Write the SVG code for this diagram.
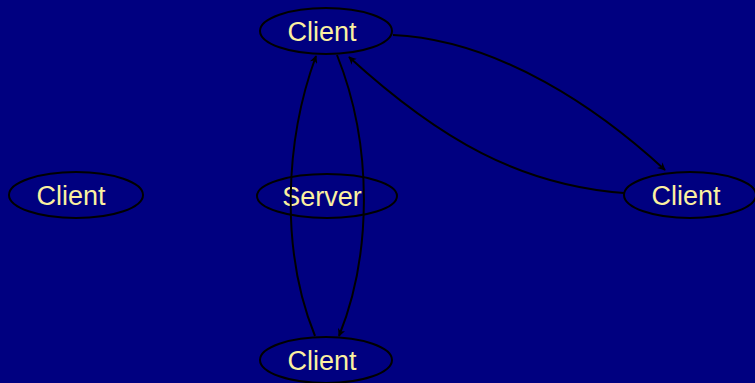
<svg xmlns="http://www.w3.org/2000/svg" width="755" height="383" viewBox="0 0 755 383">
<defs>
<style>
.node ellipse{fill:#000080;stroke:#000;stroke-width:2}
.node text{fill:#fbf0a0;font-family:"Liberation Sans","DejaVu Sans",sans-serif;font-size:27px;text-anchor:middle}
.edge{fill:none;stroke:#000;stroke-width:2;marker-end:url(#ah)}
</style>
<marker id="ah" viewBox="0 0 10 10" refX="9" refY="5" markerWidth="8" markerHeight="8" markerUnits="userSpaceOnUse" orient="auto">
<path d="M0,0 L10,5 L0,10 L3,5 Z" fill="#000"/>
</marker>
</defs>
<rect width="755" height="383" fill="#000080"/>
<g id="client-top" class="node"><ellipse cx="326" cy="31" rx="66" ry="23"/><text x="322" y="41">Client</text></g>
<g id="server" class="node"><ellipse cx="327" cy="196" rx="70" ry="22"/><text x="322" y="206">Server</text></g>
<g id="client-bottom" class="node"><ellipse cx="326" cy="360" rx="66" ry="23"/><text x="322" y="370">Client</text></g>
<g id="client-left" class="node"><ellipse cx="76" cy="195" rx="67" ry="23"/><text x="71" y="205">Client</text></g>
<g id="client-right" class="node"><ellipse cx="690" cy="195" rx="66" ry="23"/><text x="686" y="205">Client</text></g>
<g id="connectors">
<path class="edge" d="M393,35 C500,40 600,110 665,170"/>
<path class="edge" d="M624,193 C520,185 440,140 349,57"/>
<path class="edge" d="M337,55 C375,150 370,260 339,336"/>
<path class="edge" d="M315,336 C280,250 285,140 316,56"/>
</g>
</svg>
